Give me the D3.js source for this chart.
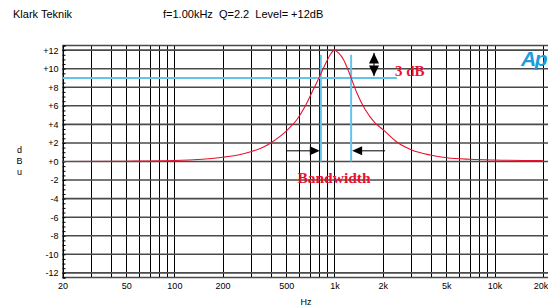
<!DOCTYPE html>
<html><head><meta charset="utf-8">
<script src="https://cdn.jsdelivr.net/npm/d3@7"></script>
<style>
body{margin:0;background:#fff;}
svg{display:block;font-family:Arial,"Liberation Sans",sans-serif;}
</style></head>
<body><svg id="c" width="548" height="308"></svg>
<script>
// ---- data ----
const titleLeft = "Klark Teknik";
const titleRight = "f=1.00kHz  Q=2.2  Level= +12dB";
const xTickValues = [20, 50, 100, 200, 500, 1000, 2000, 5000, 10000, 20000];
const xTickLabels = ["20", "50", "100", "200", "500", "1k", "2k", "5k", "10k", "20k"];
const yTickValues = [12, 10, 8, 6, 4, 2, 0, -2, -4, -6, -8, -10, -12];
const yTickLabels = ["+12", "+10", "+8", "+6", "+4", "+2", "+0", "-2", "-4", "-6", "-8", "-10", "-12"];
const freqs = [20, 50, 100, 150, 200, 250, 300, 350, 400, 457, 515, 582, 672, 735, 810, 850, 895, 940, 1000, 1060, 1138, 1253, 1379, 1555, 1786, 2023, 2454, 3045, 3963, 5034, 7045, 10000, 20000];
const levels = [0.0, 0.03, 0.1, 0.25, 0.45, 0.7, 1.05, 1.45, 2.0, 2.7, 3.5, 4.5, 6.3, 7.7, 9.2, 10.0, 10.8, 11.5, 12.0, 11.7, 11.0, 9.3, 7.4, 5.6, 4.2, 3.4, 2.1, 1.24, 0.7, 0.41, 0.24, 0.16, 0.1];
const bwLow = 822, bwHigh = 1271;      // bandwidth edges (Hz)
const bwLevel = 9;                     // -3 dB level (dB)
const bwLineEnd = 2454;                // horizontal marker end (Hz)
const bwTop = 11.5;                    // top of vertical markers (dB)
const arrowLevel = 1.15;               // bandwidth arrows (dB)

// ---- scales ----
const svg = d3.select("#c");
const x = d3.scaleLog().domain([20, 20000]).range([62.5, 542.7]);
const y = d3.scaleLinear().domain([-12.5, 12.5]).range([277.5, 45.5]);
const W = 548;

// titles
svg.append("text").attr("x", 13).attr("y", 18).attr("font-size", 11).text(titleLeft);
svg.append("text").attr("x", 163).attr("y", 18).attr("font-size", 11).style("white-space","pre").text(titleRight);

// vertical grid lines (every 1..9 x decade)
const vgrid = [];
for (let d = 10; d <= 10000; d *= 10) for (let m = 1; m <= 9; m++) { const f = d * m; if (f >= 20 && f <= 20000) vgrid.push(f); }
svg.append("g").selectAll("line").data(vgrid).join("line")
  .attr("x1", d => Math.round(x(d)) + 0.5).attr("x2", d => Math.round(x(d)) + 0.5)
  .attr("y1", y(12.5)).attr("y2", y(-12.5))
  .attr("stroke", "#000").attr("stroke-width", 1).attr("shape-rendering", "crispEdges");

// horizontal grid lines
const hgrid = [12.5].concat(yTickValues, [-12.5]);
svg.append("g").selectAll("line").data(hgrid).join("line")
  .attr("x1", x(20)).attr("x2", W)
  .attr("y1", d => y(d)).attr("y2", d => y(d))
  .attr("stroke", "#4a4a4a").attr("stroke-width", 1.6);

// left axis labels
const yAxis = d3.axisLeft(y).tickValues(yTickValues).tickSize(0).tickPadding(4)
  .tickFormat((d, i) => yTickLabels[i]);
const ga = svg.append("g").attr("transform", `translate(${x(20)},0)`).call(yAxis);
ga.select(".domain").remove();
ga.selectAll("text").attr("font-size", 9).attr("font-family", "Arial,'Liberation Sans',sans-serif").attr("fill", "#000");

// minor ticks every 0.5 dB
const minor = d3.range(-12.5, 12.51, 0.5);
const gm = svg.append("g").attr("transform", `translate(${x(20)},0)`)
  .call(d3.axisRight(y).tickValues(minor).tickSize(3).tickFormat(""));
gm.select(".domain").attr("stroke", "#000");
gm.selectAll(".tick line").attr("stroke", "#000");

// x axis labels
const xAxis = d3.axisBottom(x).tickValues(xTickValues).tickSize(0).tickPadding(4)
  .tickFormat((d, i) => xTickLabels[i]);
const gx = svg.append("g").attr("transform", `translate(0,${y(-12.5)+1})`).call(xAxis);
gx.select(".domain").remove();
gx.selectAll("text").attr("font-size", 9).attr("font-family", "Arial,'Liberation Sans',sans-serif").attr("fill", "#000");
gx.selectAll("text").filter(d => d === 20000).attr("text-anchor", "end").attr("x", 5);

// axis titles
svg.append("text").attr("x", 306).attr("y", 305).attr("font-size", 9).attr("text-anchor", "middle").text("Hz");
["d", "B", "u"].forEach((c, i) => svg.append("text").attr("x", 19.5).attr("y", 153 + i * 11).attr("font-size", 9).attr("text-anchor", "middle").text(c));

// blue bandwidth markers
const blue = "#62c3ec";
svg.append("line").attr("x1", x(20)).attr("x2", x(bwLineEnd)).attr("y1", y(bwLevel)).attr("y2", y(bwLevel))
  .attr("stroke", blue).attr("stroke-width", 2);
[bwLow, bwHigh].forEach(f => svg.append("line").attr("x1", x(f)).attr("x2", x(f)).attr("y1", y(bwTop)).attr("y2", y(0))
  .attr("stroke", blue).attr("stroke-width", 2));

// red response curve
const pts = freqs.map((f, i) => [f, levels[i]]);
svg.append("path").datum(pts)
  .attr("d", d3.line().x(d => x(d[0])).y(d => y(d[1])).curve(d3.curveMonotoneX))
  .attr("fill", "none").attr("stroke", "#e8112d").attr("stroke-width", 1.1);

// black arrows
const ay = y(arrowLevel);
const xl = x(bwLow), xh = x(bwHigh);
svg.append("line").attr("x1", xl - 34).attr("x2", xl - 8).attr("y1", ay).attr("y2", ay).attr("stroke", "#000").attr("stroke-width", 1);
svg.append("path").attr("d", `M${xl - 1},${ay} L${xl - 11},${ay - 4.5} L${xl - 11},${ay + 4.5} Z`).attr("fill", "#000");
svg.append("line").attr("x1", xh + 8).attr("x2", xh + 34).attr("y1", ay).attr("y2", ay).attr("stroke", "#000").attr("stroke-width", 1);
svg.append("path").attr("d", `M${xh + 1},${ay} L${xh + 11},${ay - 4.5} L${xh + 11},${ay + 4.5} Z`).attr("fill", "#000");

// vertical double arrow (3 dB)
const vx = 374, vy1 = y(11.7), vy2 = y(9.2), vm = (vy1 + vy2) / 2;
svg.append("path").attr("d", `M${vx},${vy1} L${vx - 5},${vm - 1} L${vx + 5},${vm - 1} Z`).attr("fill", "#000");
svg.append("path").attr("d", `M${vx},${vy2} L${vx - 5},${vm + 1} L${vx + 5},${vm + 1} Z`).attr("fill", "#000");
svg.append("line").attr("x1", vx).attr("x2", vx).attr("y1", vy1).attr("y2", vy2).attr("stroke", "#000");

// red annotations
svg.append("text").attr("x", 395).attr("y", 75.5).attr("font-size", 15).attr("font-weight", "bold")
  .attr("font-family", "'Liberation Serif','DejaVu Serif',serif").attr("fill", "#e8112d").text("3 dB");
svg.append("text").attr("x", 334).attr("y", 183).attr("font-size", 15.5).attr("font-weight", "bold").attr("text-anchor", "middle")
  .attr("font-family", "'Liberation Serif','DejaVu Serif',serif").attr("fill", "#e8112d").text("Bandwidth");

// Ap logo
svg.append("text").attr("x", 546).attr("y", 66).attr("font-size", 21).attr("font-weight", "bold").attr("font-style", "italic")
  .attr("text-anchor", "end")
  .attr("font-family", "Arial,'Liberation Sans',sans-serif").attr("fill", "#1a9ce0").attr("letter-spacing", -1.5).text("Ap");
</script></body></html>
